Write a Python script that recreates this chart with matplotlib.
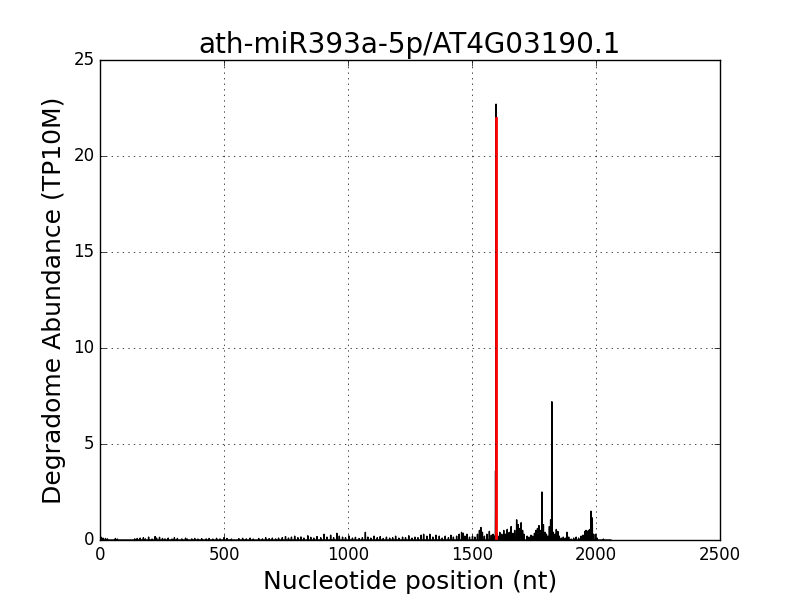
import numpy as np
import matplotlib
import matplotlib.pyplot as plt

matplotlib.use("Agg")
plt.style.use("classic")

TITLE = "ath-miR393a-5p/AT4G03190.1"
TRANSCRIPT_LENGTH = 2060

# cleavage site (red) and its abundance
site = 1597
site_abundance = 22.0

# degradome tags: position (nt) and abundance (TP10M), zero elsewhere
positions = [
    0, 4, 12, 22, 30, 62, 70,
    140, 150, 162, 175, 183, 196, 210, 222, 228, 240, 252, 262, 275, 290,
    300, 312, 330, 345, 352,
    370, 382, 395, 410, 428, 440, 455, 470, 484, 500, 512, 530, 560, 575,
    590, 605, 618, 640, 655, 668, 682, 695, 708,
    720, 735, 748, 760, 772, 785, 798, 810, 822, 838, 850, 862, 875, 890,
    903, 915, 930, 942, 955, 965, 978, 990, 1005, 1018, 1030, 1045, 1058,
    1070, 1080, 1092, 1105, 1118, 1130, 1142, 1155, 1168, 1180, 1192, 1205,
    1220, 1232, 1245, 1258, 1270, 1282, 1295, 1305, 1318, 1330, 1342, 1355,
    1368, 1380, 1392, 1405, 1415,
    1425, 1438, 1448, 1458, 1465, 1472, 1480, 1490, 1502, 1512, 1522, 1530,
    1536, 1542, 1550, 1560, 1570, 1578, 1585, 1590, 1595, 1597, 1600, 1605,
    1612, 1620, 1628, 1635, 1642, 1650, 1658, 1665, 1672, 1680, 1686, 1692,
    1698, 1704, 1710,
    1722, 1730, 1738, 1745, 1752, 1758, 1764, 1770, 1775, 1782, 1788, 1794,
    1800, 1806, 1812, 1817, 1822, 1828, 1834, 1840, 1846, 1852, 1860, 1868,
    1876, 1883, 1890, 1900, 1910, 1920, 1930, 1940, 1948, 1955, 1960, 1965,
    1970, 1975, 1980, 1985, 1990, 1998, 2004, 2030,
]
values = [
    0.35, 0.15, 0.1, 0.08, 0.06, 0.08, 0.05,
    0.06, 0.08, 0.1, 0.12, 0.06, 0.15, 0.05, 0.18, 0.1, 0.14, 0.08, 0.06, 0.1, 0.05,
    0.12, 0.08, 0.06, 0.1, 0.05,
    0.06, 0.08, 0.05, 0.07, 0.06, 0.08, 0.05, 0.09, 0.06, 0.12, 0.08, 0.05, 0.07, 0.09,
    0.06, 0.1, 0.05, 0.08, 0.06, 0.12, 0.07, 0.1, 0.06,
    0.1, 0.12, 0.18, 0.1, 0.15, 0.2, 0.12, 0.16, 0.1, 0.22, 0.14, 0.1, 0.18, 0.12,
    0.3, 0.15, 0.25, 0.12, 0.35, 0.2, 0.15, 0.12, 0.2, 0.1, 0.14, 0.08, 0.12,
    0.4, 0.15, 0.1, 0.2, 0.12, 0.18, 0.08, 0.15, 0.1, 0.12, 0.2, 0.1,
    0.15, 0.12, 0.22, 0.1, 0.15, 0.12, 0.25, 0.3, 0.2, 0.3, 0.15, 0.25,
    0.2, 0.1, 0.2, 0.12, 0.25,
    0.15, 0.2, 0.3, 0.4, 0.35, 0.2, 0.3, 0.15, 0.2, 0.15, 0.3, 0.5,
    0.65, 0.4, 0.2, 0.3, 0.45, 0.25, 0.3, 0.2, 3.6, 22.7, 0.3, 0.2,
    0.4, 0.3, 0.5, 0.3, 0.55, 0.4, 0.7, 0.35, 0.5, 1.05, 0.8, 0.6,
    0.9, 0.5, 0.3,
    0.2, 0.15, 0.25, 0.2, 0.35, 0.5, 0.6, 0.75, 0.5, 2.5, 0.8, 0.4,
    0.3, 0.2, 0.7, 1.05, 7.2, 0.4, 0.3, 0.55, 0.45, 0.2, 0.1, 0.15,
    0.1, 0.4, 0.15, 0.05, 0.1, 0.15, 0.1, 0.2, 0.25, 0.45, 0.5, 0.45,
    0.5, 0.55, 1.5, 1.15, 0.3, 0.3, 0.1, 0.05,
]

nt = np.arange(TRANSCRIPT_LENGTH + 1)
abundance = np.zeros(len(nt))
abundance[positions] = values

fig = plt.figure(figsize=(8, 6), dpi=100)
ax = fig.add_subplot(111)
ax.plot(nt, abundance, "k-", lw=1)
ax.plot([site, site], [0, site_abundance], "r-", lw=2)

ax.set_xlim(0, 2500)
ax.set_ylim(0, 25)
ax.grid(True)
ax.set_title(TITLE, fontsize=20)
ax.set_xlabel("Nucleotide position (nt)", fontsize=18)
ax.set_ylabel("Degradome Abundance (TP10M)", fontsize=18)

fig.savefig("out.png", dpi=100)
